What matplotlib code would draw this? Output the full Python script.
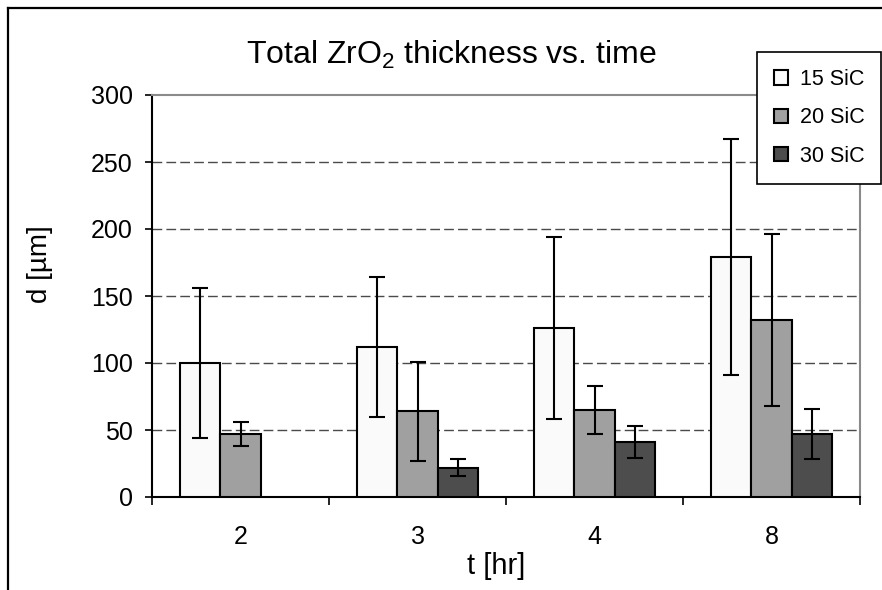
import numpy as np
import matplotlib
matplotlib.use("Agg")
import matplotlib.pyplot as plt
from matplotlib.lines import Line2D

plt.rcParams["font.family"] = ["Liberation Sans", "DejaVu Sans"]
plt.rcParams["mathtext.fontset"] = "custom"
plt.rcParams["mathtext.rm"] = "Liberation Sans"
plt.rcParams["mathtext.it"] = "Liberation Sans"

# Oxide thickness (µm) and spread per exposure time
times = ["2", "3", "4", "8"]
series_names = ["15 SiC", "20 SiC", "30 SiC"]
sic15 = [100, 112, 126, 179]
sic15_err = [56, 52, 68, 88]
sic20 = [47, 64, 65, 132]
sic20_err = [9, 37, 18, 64]
sic30 = [np.nan, 22, 41, 47]
sic30_err = [np.nan, 6, 12, 19]
y_ticks = [0, 50, 100, 150, 200, 250, 300]

colors = ["#fafafa", "#a0a0a0", "#4d4d4d"]

W, H = 882, 590
fig = plt.figure(figsize=(W / 100, H / 100), dpi=100)
ax = fig.add_axes([152 / W, 1 - 497 / H, (860 - 152) / W, (497 - 95) / H])

x = np.arange(len(times))
width = 0.227
values = [sic15, sic20, sic30]
errors = [sic15_err, sic20_err, sic30_err]
handles = []
for k, (vals, errs) in enumerate(zip(values, errors)):
    pos = x + (k - 1) * width
    b = ax.bar(pos, vals, width=width, color=colors[k], edgecolor="black",
               linewidth=1.5, zorder=3, label=series_names[k])
    ax.errorbar(pos, vals, yerr=errs, fmt="none", ecolor="black",
                elinewidth=1.5, capsize=5.8, capthick=1.5, zorder=4)
    handles.append(b)

ax.set_xlim(-0.5, len(times) - 0.5)
ax.set_ylim(0, 300)
ax.set_yticks(y_ticks)
ax.set_yticklabels([str(v) for v in y_ticks], fontsize=18)
ax.tick_params(axis="y", direction="out", length=5, width=1.2, pad=9)

# category boundaries carry the tick marks, labels sit at the centres
ax.set_xticks(np.arange(len(times) + 1) - 0.5)
ax.set_xticklabels([])
ax.tick_params(axis="x", which="major", direction="out", length=6, width=1.2)
ax.set_xticks(x, minor=True)
ax.set_xticklabels(times, minor=True, fontsize=18)
ax.tick_params(axis="x", which="minor", length=0, pad=20)

for v in y_ticks[1:-1]:
    ax.axhline(v, color="#4a4a4a", linewidth=1, linestyle=(0, (7, 3)), zorder=1)

ax.spines["left"].set_color("black")
ax.spines["left"].set_linewidth(1.5)
ax.spines["bottom"].set_color("black")
ax.spines["bottom"].set_linewidth(1.5)
ax.spines["top"].set_color("#8a8a8a")
ax.spines["top"].set_linewidth(1.5)
ax.spines["right"].set_color("#8a8a8a")
ax.spines["right"].set_linewidth(1.5)

fig.text(451 / W, 1 - 64 / H, "Total ZrO$_2$ thickness vs. time",
         fontsize=23, ha="center", va="baseline")
fig.text(40 / W, 1 - 264 / H, "d [µm]", fontsize=20, rotation=90,
         ha="center", va="center")
fig.text(496 / W, 1 - 566 / H, "t [hr]", fontsize=21, ha="center", va="center")

# legend box spans x 757..881, y 52..180 (pixels from top-left)
leg = fig.legend(handles=handles, loc="upper left", mode="expand",
                 bbox_to_anchor=(757 / W, 1 - 180 / H, 124 / W, 128 / H),
                 fontsize=15.5, handlelength=0.65, handleheight=0.65,
                 handletextpad=0.55, labelspacing=0.8, borderpad=0.8,
                 borderaxespad=0, fancybox=False, framealpha=1,
                 edgecolor="black")
leg.get_frame().set_linewidth(1.2)

# outer chart frame
fig.add_artist(Line2D([8 / W, 8 / W], [0, 1 - 8 / H], transform=fig.transFigure,
                      color="black", linewidth=1.6))
fig.add_artist(Line2D([8 / W, 1], [1 - 8 / H, 1 - 8 / H], transform=fig.transFigure,
                      color="black", linewidth=1.6))

fig.savefig("out.png", dpi=100)
